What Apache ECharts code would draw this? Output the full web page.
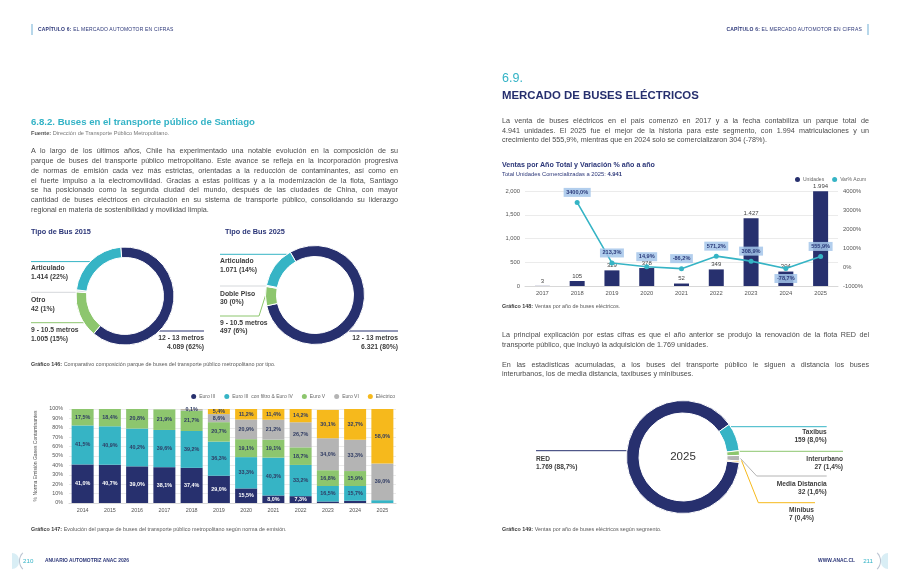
<!DOCTYPE html>
<html>
<head>
<meta charset="utf-8">
<script src="https://cdn.jsdelivr.net/npm/echarts@6/dist/echarts.min.js"></script>
<style>
  html, body { margin:0; padding:0; background:#fff; }
  #page { position:relative; width:900px; height:586px; overflow:hidden; background:#fff;
          font-family:'Liberation Sans', Arial, sans-serif; }
  #chart { position:absolute; left:0; top:0; width:900px; height:586px; }
  .t { position:absolute; white-space:nowrap; line-height:10px; }
  .para { position:absolute; font-size:7.2px; color:#4a4a4a; width:367px; }
  .para div { white-space:nowrap; }
  .jl { display:inline-block; white-space:nowrap; }
  .cap { font-size:5.4px; color:#5a5a5a; }
  .cap b { color:#3a3a3a; }
</style>
</head>
<body>
<div id="page">
  <div id="chart"></div>

  <!-- headers -->
  <div style="position:absolute;left:31px;top:24px;width:1.5px;height:11px;background:#b7d7ea"></div>
  <div class="t" style="left:38px;top:24px;font-size:5px;color:#2b3678;letter-spacing:0.2px"><b>CAPÍTULO 6:</b> EL MERCADO AUTOMOTOR EN CIFRAS</div>
  <div class="t" style="right:38px;top:24px;font-size:5px;color:#2b3678;letter-spacing:0.2px"><b>CAPÍTULO 6:</b> EL MERCADO AUTOMOTOR EN CIFRAS</div>
  <div style="position:absolute;left:867px;top:24px;width:1.5px;height:11px;background:#b7d7ea"></div>

  <!-- left page -->
  <div class="t" style="left:31px;top:116px;line-height:12px;font-size:9.6px;font-weight:bold;color:#33b3c6">6.8.2. Buses en el transporte público de Santiago</div>
  <div class="t" style="left:31px;top:128px;font-size:5.6px;color:#777"><b style="color:#555">Fuente:</b> Dirección de Transporte Público Metropolitano.</div>

  <div class="para" style="left:31px;top:146.1px;line-height:9.85px;">
    <div><span class="jl" data-w="367">A lo largo de los últimos años, Chile ha experimentado una notable evolución en la composición de su</span></div>
    <div><span class="jl" data-w="367">parque de buses del transporte público metropolitano. Este avance se refleja en la incorporación progresiva</span></div>
    <div><span class="jl" data-w="367">de normas de emisión cada vez más estrictas, orientadas a la reducción de contaminantes, así como en</span></div>
    <div><span class="jl" data-w="367">el fuerte impulso a la electromovilidad. Gracias a estas políticas y a la modernización de la flota, Santiago</span></div>
    <div><span class="jl" data-w="367">se ha posicionado como la segunda ciudad del mundo, después de las ciudades de China, con mayor</span></div>
    <div><span class="jl" data-w="367">cantidad de buses eléctricos en circulación en su sistema de transporte público, consolidando su liderazgo</span></div>
    <div>regional en materia de sostenibilidad y movilidad limpia.</div>
  </div>

  <div class="t" style="left:31px;top:227px;font-size:7.3px;font-weight:bold;color:#2b3678">Tipo de Bus 2015</div>
  <div class="t" style="left:225px;top:227px;font-size:7.3px;font-weight:bold;color:#2b3678">Tipo de Bus 2025</div>
  <div class="t cap" style="left:31px;top:359px"><b>Gráfico 146:</b> Comparativo composición parque de buses del transporte público metropolitano por tipo.</div>
  <div class="t cap" style="left:31px;top:524px"><b>Gráfico 147:</b> Evolución del parque de buses del transporte público metropolitano según norma de emisión.</div>

  <!-- right page -->
  <div class="t" style="left:502px;top:71px;line-height:14px;font-size:12.5px;color:#33b3c6">6.9.</div>
  <div class="t" style="left:502px;top:87.5px;line-height:14px;font-size:11.4px;font-weight:bold;color:#262f6e">MERCADO DE BUSES ELÉCTRICOS</div>

  <div class="para" style="left:502px;top:116.2px;line-height:9.6px;">
    <div><span class="jl" data-w="367">La venta de buses eléctricos en el país comenzó en 2017 y a la fecha contabiliza un parque total de</span></div>
    <div><span class="jl" data-w="367">4.941 unidades. El 2025 fue el mejor de la historia para este segmento, con 1.994 matriculaciones y un</span></div>
    <div>crecimiento del 555,9%, mientras que en 2024 solo se comercializaron 304 (-78%).</div>
  </div>

  <div class="t" style="left:502px;top:160px;font-size:7.1px;font-weight:bold;color:#2b3678">Ventas por Año Total y Variación % año a año</div>
  <div class="t" style="left:502px;top:169px;font-size:5.8px;color:#2b3678">Total Unidades Comercializadas a 2025: <b>4.941</b></div>
  <div class="t cap" style="left:502px;top:301px"><b>Gráfico 148:</b> Ventas por año de buses eléctricos.</div>

  <div class="para" style="left:502px;top:330.2px;line-height:9.6px;">
    <div><span class="jl" data-w="367">La principal explicación por estas cifras es que el año anterior se produjo la renovación de la flota RED del</span></div>
    <div>transporte público, que incluyó la adquisición de 1.769 unidades.</div>
  </div>
  <div class="para" style="left:502px;top:359.5px;line-height:9.6px;">
    <div><span class="jl" data-w="367">En las estadísticas acumuladas, a los buses del transporte público le siguen a distancia los buses</span></div>
    <div>interurbanos, los de media distancia, taxibuses y minibuses.</div>
  </div>
  <div class="t cap" style="left:502px;top:524px"><b>Gráfico 149:</b> Ventas por año de buses eléctricos según segmento.</div>

  <!-- footer -->
  <div style="position:absolute;left:12px;top:553px;width:7px;height:16px;border-radius:0 8px 8px 0;background:#d9eef5"></div>
  <div style="position:absolute;left:19px;top:549px;width:24px;height:24px;border-radius:50%;border:1px solid #b9c2d0;border-top-color:transparent;border-bottom-color:transparent;border-right-color:transparent;box-sizing:border-box"></div>
  <div class="t" style="left:23px;top:556px;font-size:6.2px;color:#33b3c6">210</div>
  <div class="t" style="left:45px;top:556px;font-size:4.9px;font-weight:bold;color:#2b3678">ANUARIO AUTOMOTRIZ ANAC 2026</div>
  <div class="t" style="right:45px;top:556px;font-size:4.9px;font-weight:bold;color:#2b3678">WWW.ANAC.CL</div>
  <div class="t" style="right:27px;top:556px;font-size:6.2px;color:#33b3c6">211</div>
  <div style="position:absolute;left:857px;top:549px;width:24px;height:24px;border-radius:50%;border:1px solid #b9c2d0;border-top-color:transparent;border-bottom-color:transparent;border-left-color:transparent;box-sizing:border-box"></div>
  <div style="position:absolute;left:881px;top:553px;width:7px;height:16px;border-radius:8px 0 0 8px;background:#d9eef5"></div>
</div>

<script>
// ---------------- DATA ----------------
const emisYears = ['2014','2015','2016','2017','2018','2019','2020','2021','2022','2023','2024','2025'];
const euroIII      = [41.0, 40.7, 39.0, 38.1, 37.4, 29.0, 15.5,  8.0,  7.3,  1.6,  2.4,  0.0];
const euroIIIfIV   = [41.5, 40.9, 40.2, 39.6, 39.2, 36.3, 33.3, 40.3, 33.2, 16.5, 15.7,  3.0];
const euroV        = [17.5, 18.4, 20.8, 21.9, 21.7, 20.7, 19.1, 19.1, 18.7, 16.8, 15.9,  0.0];
const euroVI       = [ 0.0,  0.0,  0.0,  0.0,  1.6,  8.6, 20.9, 21.2, 26.7, 34.0, 33.3, 39.0];
const electrico    = [ 0.0,  0.0,  0.0,  0.0,  0.1,  5.4, 11.2, 11.4, 14.2, 30.1, 32.7, 58.0];
const emisNames = ['Euro III', 'Euro III  con filtro & Euro IV', 'Euro V', 'Euro VI', 'Eléctrico'];

const salesYears = ['2017','2018','2019','2020','2021','2022','2023','2024','2025'];
const salesUnits = [3, 105, 329, 378, 52, 349, 1427, 304, 1994];
const salesVar   = [null, 3400.0, 213.3, 14.9, -86.2, 571.2, 308.9, -78.7, 555.9];

const bus2015Names  = ['12 - 13 metros', '9 - 10.5 metros', 'Otro', 'Articulado'];
const bus2015Values = [4089, 1005, 42, 1414];
const bus2025Names  = ['12 - 13 metros', '9 - 10.5 metros', 'Doble Piso', 'Articulado'];
const bus2025Values = [6321, 497, 30, 1071];

const segNames  = ['RED', 'Taxibus', 'Interurbano', 'Media Distancia', 'Minibus'];
const segValues = [1769, 159, 27, 32, 7];

// ---------------- STYLE ----------------
const FONT = "'Liberation Sans', Arial, sans-serif";
const NAVY = '#27306e', TEAL = '#36b4c5', GREEN = '#8dc66e', GREY = '#b4b4b4', YELLOW = '#f6b91c', LIGHT = '#d5d8db';
const emisColors = [NAVY, TEAL, GREEN, GREY, YELLOW];

const fmtDot = v => String(v).replace(/\B(?=(\d{3})+(?!\d))/g, '.');
const fmtComma1 = v => v.toFixed(1).replace('.', ',');
const sum = a => a.reduce((s, x) => s + x, 0);

// justify paragraph lines
document.querySelectorAll('.jl').forEach(el => {
  const W = +el.dataset.w;
  el.style.wordSpacing = '0px';
  const w = el.getBoundingClientRect().width;
  const n = (el.textContent.match(/ /g) || []).length;
  if (n) el.style.wordSpacing = ((W - w) / n) + 'px';
});

// ---------------- PIE LABEL LAYOUTS (positions only) ----------------
function makeLayout(cx, cy, R, specs) {
  return function (p) {
    const s = specs[p.dataIndex];
    const dy = s.lineY - cy;
    const dx = Math.sqrt(Math.max(0, R * R - dy * dy));
    const edgeX = s.side === 'left' ? cx - dx : cx + dx;
    const start = s.start || [edgeX, s.lineY];
    const mid = s.mid || [edgeX, s.lineY];
    return {
      x: s.textX, y: s.textTop,
      align: s.side === 'left' ? 'left' : 'right',
      verticalAlign: 'top',
      labelLinePoints: [start, mid, [s.lineEndX, s.lineY]]
    };
  };
}
const L15 = { cx: 125, cy: 296, R: 49 };
const spec2015 = [
  { side: 'right', lineY: 331,   lineEndX: 204, textX: 204, textTop: 334.2 },
  { side: 'left',  lineY: 322.7, lineEndX: 31,  textX: 31,  textTop: 326.2 },
  { side: 'left',  lineY: 292.3, lineEndX: 31,  textX: 31,  textTop: 296.2 },
  { side: 'left',  lineY: 261.6, lineEndX: 31,  textX: 31,  textTop: 264.2 }
];
const L25 = { cx: 315, cy: 295, R: 49.5 };
const spec2025 = [
  { side: 'right', lineY: 331,   lineEndX: 398, textX: 398, textTop: 334.2 },
  { side: 'left',  lineY: 316,   lineEndX: 220, textX: 220, textTop: 318.5, start: [267.5, 289], mid: [259, 316] },
  { side: 'left',  lineY: 286,   lineEndX: 220, textX: 220, textTop: 290 },
  { side: 'left',  lineY: 254.3, lineEndX: 220, textX: 220, textTop: 257.3 }
];
const LS = { cx: 683, cy: 457, R: 56.5 };
const specSeg = [
  { side: 'left',  lineY: 450.7, lineEndX: 536,   textX: 536,   textTop: 455.3 },
  { side: 'right', lineY: 426.7, lineEndX: 826.7, textX: 826.7, textTop: 428.3 },
  { side: 'right', lineY: 451.3, lineEndX: 843,   textX: 843,   textTop: 454.7 },
  { side: 'right', lineY: 476,   lineEndX: 826.7, textX: 826.7, textTop: 480,   start: [740.5, 458.5], mid: [756.7, 476] },
  { side: 'right', lineY: 502.7, lineEndX: 815,   textX: 814,   textTop: 506,   start: [741.5, 460.5], mid: [758.3, 502.7] }
];

const pieRich = (fs, lh) => ({
  n: { fontSize: fs, fontWeight: 'bold', color: '#3c3c3c', lineHeight: lh, fontFamily: FONT },
  v: { fontSize: fs, fontWeight: 'bold', color: '#3c3c3c', lineHeight: lh, fontFamily: FONT }
});

function busPie(names, values, colors, center, startAngle, specs, L) {
  const total = sum(values);
  return {
    type: 'pie', center: center, radius: [38.5, L.R], startAngle: startAngle, clockwise: true,
    avoidLabelOverlap: false, silent: true,
    itemStyle: { borderColor: '#fff', borderWidth: 1 },
    data: names.map((n, i) => ({ name: n, value: values[i], itemStyle: { color: colors[i] } })),
    label: {
      show: true,
      formatter: p => '{n|' + p.name + '}\n{v|' + fmtDot(p.value) + ' (' + Math.round(p.value / total * 100) + '%)}',
      rich: pieRich(6.8, 8.3)
    },
    labelLine: { show: true, length: 0, length2: 0, smooth: false, lineStyle: { width: 1 } },
    labelLayout: makeLayout(L.cx, L.cy, L.R, specs)
  };
}

const segTotal = sum(segValues);
const segColors = [NAVY, TEAL, GREEN, GREY, YELLOW];

const chart = echarts.init(document.getElementById('chart'), null, { renderer: 'canvas' });

const stackSeries = [euroIII, euroIIIfIV, euroV, euroVI, electrico].map((arr, k) => ({
  name: emisNames[k], type: 'bar', stack: 'emis', xAxisIndex: 0, yAxisIndex: 0,
  barWidth: 22, data: arr, itemStyle: { color: emisColors[k] }, silent: true,
  label: {
    show: true, position: 'inside', fontSize: 5.4, fontWeight: 'bold', fontFamily: FONT,
    color: k === 0 ? '#ffffff' : '#2e3a62',
    formatter: p => (p.value >= 5 || (k === 4 && p.value > 0)) ? fmtComma1(p.value) + '%' : ''
  }
}));

const option = {
  animation: false,
  textStyle: { fontFamily: FONT },
  legend: [
    {
      data: emisNames, right: 500, top: 389, icon: 'circle', itemWidth: 5, itemHeight: 5, itemGap: 9,
      textStyle: { fontSize: 5, color: '#666', fontFamily: FONT, padding: [0, 0, 0, -2] }, selectedMode: false
    },
    {
      data: ['Unidades', 'Var% Acum'], left: 790, top: 172, icon: 'circle', itemWidth: 5, itemHeight: 5, itemGap: 8,
      textStyle: { fontSize: 5, color: '#666', fontFamily: FONT, padding: [0, 0, 0, -2] }, selectedMode: false
    }
  ],
  grid: [
    { left: 69, right: 504, top: 409, bottom: 83 },
    { left: 525, right: 62, top: 191, bottom: 300 }
  ],
  xAxis: [
    {
      gridIndex: 0, type: 'category', data: emisYears,
      axisLine: { lineStyle: { color: '#d8d8d8' } }, axisTick: { show: false },
      axisLabel: { fontSize: 5.4, color: '#555', margin: 5 }
    },
    {
      gridIndex: 1, type: 'category', data: salesYears,
      axisLine: { lineStyle: { color: '#d8d8d8' } }, axisTick: { show: false },
      axisLabel: { fontSize: 5.8, color: '#555', margin: 4 }
    }
  ],
  yAxis: [
    {
      gridIndex: 0, type: 'value', min: 0, max: 100, interval: 10,
      axisLabel: { fontSize: 5.4, color: '#555', formatter: v => v + '%', margin: 6 },
      splitLine: { lineStyle: { color: '#e6e6e6', width: 0.8 } },
      name: '% Norma Emisión Gases Contaminantes', nameLocation: 'middle', nameGap: 31,
      nameTextStyle: { fontSize: 5, color: '#555' }
    },
    {
      gridIndex: 1, type: 'value', min: 0, max: 2000, interval: 500,
      axisLabel: { fontSize: 5.8, color: '#555', margin: 5, formatter: v => v.toLocaleString('en-US') },
      splitLine: { lineStyle: { color: '#e6e6e6', width: 0.8 } }
    },
    {
      gridIndex: 1, type: 'value', min: -1000, max: 4000, interval: 1000, position: 'right',
      axisLabel: { fontSize: 5.8, color: '#555', margin: 5, formatter: v => v + '%' },
      splitLine: { show: false }, axisLine: { show: false }
    }
  ],
  series: [
    ...stackSeries,
    {
      name: 'Unidades', type: 'bar', xAxisIndex: 1, yAxisIndex: 1, barWidth: 15, silent: true,
      data: salesUnits, itemStyle: { color: NAVY },
      label: { show: true, position: 'top', distance: 2, fontSize: 6, color: '#444', formatter: p => fmtDot(p.value) }
    },
    {
      name: 'Var% Acum', type: 'line', xAxisIndex: 1, yAxisIndex: 2, silent: true,
      data: salesVar.map((v, i) => salesYears[i] === '2024' ? { value: v, label: { position: 'bottom' } } : v),
      lineStyle: { color: TEAL, width: 1.6 }, itemStyle: { color: TEAL },
      symbol: 'circle', symbolSize: 5, z: 5,
      label: {
        show: true, position: 'top', distance: 3, fontSize: 5.6, fontWeight: 'bold', color: '#2b3a7a',
        backgroundColor: 'rgba(164,197,234,0.85)', padding: [1.5, 2.5],
        formatter: p => p.value == null ? '' : fmtComma1(p.value) + '%'
      }
    },
    busPie(bus2015Names, bus2015Values, [NAVY, GREEN, LIGHT, TEAL], [L15.cx, L15.cy], 95, spec2015, L15),
    busPie(bus2025Names, bus2025Values, [NAVY, GREEN, LIGHT, TEAL], [L25.cx, L25.cy], 120, spec2025, L25),
    {
      type: 'pie', center: [LS.cx, LS.cy], radius: [44, LS.R], startAngle: -5.4, clockwise: true,
      avoidLabelOverlap: false, silent: true,
      itemStyle: { borderColor: '#fff', borderWidth: 1 },
      data: segNames.map((n, i) => ({ name: n, value: segValues[i], itemStyle: { color: segColors[i] } })),
      label: {
        show: true,
        formatter: p => '{n|' + p.name + '}\n{v|' + fmtDot(p.value) + ' (' + fmtComma1(p.value / segTotal * 100) + '%)}',
        rich: pieRich(6.6, 8)
      },
      labelLine: { show: true, length: 0, length2: 0, smooth: false, lineStyle: { width: 1 } },
      labelLayout: makeLayout(LS.cx, LS.cy, LS.R, specSeg)
    }
  ],
  graphic: [
    { type: 'text', x: LS.cx, y: LS.cy, silent: true,
      style: { text: '2025', align: 'center', verticalAlign: 'middle', fontSize: 11.5, fill: '#333', fontFamily: FONT } }
  ]
};
chart.setOption(option);
</script>
</body>
</html>
